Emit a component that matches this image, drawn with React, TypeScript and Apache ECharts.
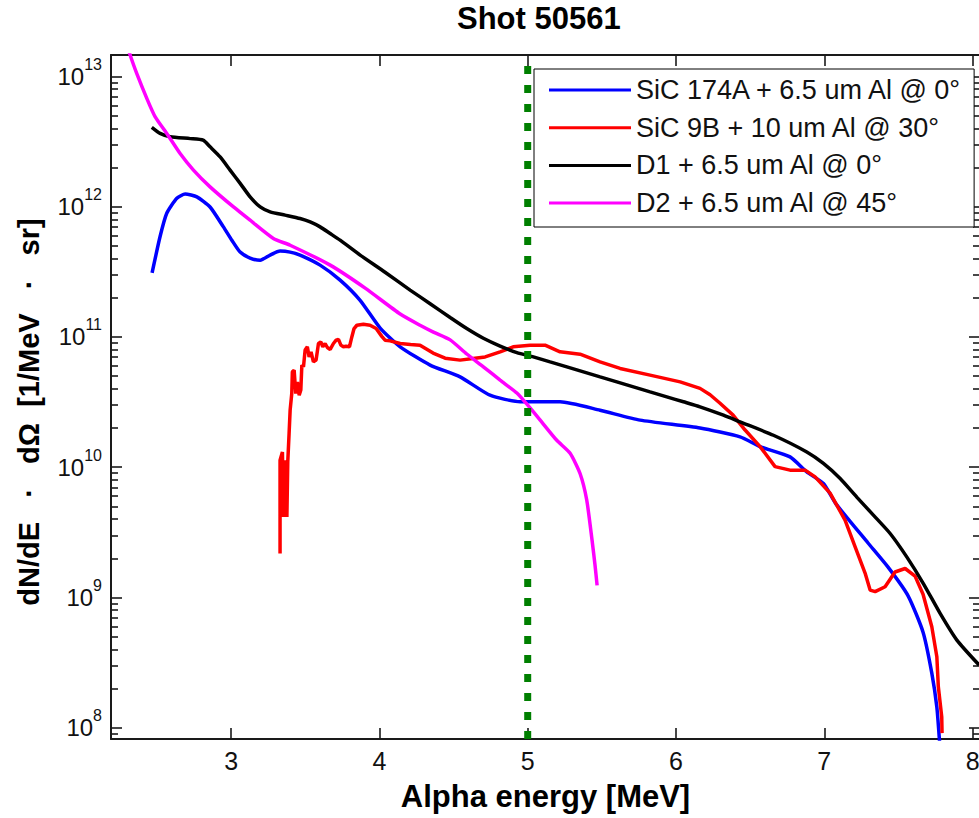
import React, { useEffect, useRef } from 'react';
import * as echarts from 'echarts';

const chartTitle = 'Shot 50561';
const xAxisLabel = 'Alpha energy [MeV]';
const yAxisLabel = 'dN/dE\u00a0\u00a0\u00a0·\u00a0\u00a0\u00a0dΩ\u00a0\u00a0[1/MeV\u00a0\u00a0\u00a0·\u00a0\u00a0\u00a0sr]';

const xTickValues = [3, 4, 5, 6, 7, 8];
const yDecadeExponents = [8, 9, 10, 11, 12, 13];
const energyMin = 2.19;
const energyMax = 8.05;
const fluxMin = 8.2e7;
const fluxMax = 1.46e13;
const cutoffEnergy = [5];

const seriesNames = [
  'SiC 174A + 6.5 um Al @ 0°',
  'SiC 9B + 10 um Al @ 30°',
  'D1 + 6.5 um Al @ 0°',
  'D2 + 6.5 um Al @ 45°',
];
const seriesColors = ['#0000ff', '#ff0000', '#000000', '#ff00ff'];

const sic174aEnergy = [2.467, 2.521, 2.566, 2.634, 2.690, 2.769, 2.858, 2.948, 3.005, 3.061, 3.128, 3.196, 3.263, 3.330, 3.398, 3.465, 3.600, 3.735, 3.870, 4.005, 4.140, 4.342, 4.544, 4.746, 4.949, 5.218, 5.488, 5.758, 6.162, 6.432, 6.567, 6.769, 6.882, 6.994, 7.080, 7.295, 7.430, 7.565, 7.666, 7.725, 7.759, 7.776, 7.787];
const sic174aFlux = [3.1e11, 5.9e11, 8.9e11, 1.16e12, 1.25e12, 1.19e12, 9.95e11, 7.0e11, 5.53e11, 4.48e11, 4.03e11, 3.88e11, 4.25e11, 4.56e11, 4.48e11, 4.25e11, 3.56e11, 2.73e11, 1.91e11, 1.17e11, 8.4e10, 6.08e10, 4.94e10, 3.57e10, 3.18e10, 3.18e10, 2.74e10, 2.30e10, 2.0e10, 1.71e10, 1.44e10, 1.2e10, 9.2e9, 7.5e9, 5.21e9, 2.62e9, 1.71e9, 1.03e9, 5.42e8, 2.63e8, 1.44e8, 8.2e7, 5.6e7];

const sic9bEnergy = [3.330, 3.330, 3.346, 3.353, 3.364, 3.376, 3.382, 3.391, 3.398, 3.409, 3.413, 3.425, 3.436, 3.447, 3.459, 3.470, 3.477, 3.488, 3.499, 3.514, 3.526, 3.539, 3.555, 3.573, 3.589, 3.605, 3.618, 3.634, 3.649, 3.668, 3.690, 3.708, 3.724, 3.740, 3.757, 3.775, 3.798, 3.814, 3.829, 3.848, 3.892, 3.937, 3.978, 4.016, 4.038, 4.072, 4.140, 4.210, 4.274, 4.362, 4.443, 4.544, 4.645, 4.713, 4.814, 4.902, 5.016, 5.117, 5.218, 5.353, 5.488, 5.623, 5.825, 6.028, 6.162, 6.230, 6.297, 6.385, 6.466, 6.567, 6.668, 6.769, 6.871, 6.938, 7.039, 7.140, 7.208, 7.275, 7.309, 7.343, 7.410, 7.477, 7.545, 7.612, 7.666, 7.725, 7.759, 7.769, 7.792, 7.794];
const sic9bFlux = [2.18e9, 1.13e10, 1.31e10, 4.16e9, 1.13e10, 4.16e9, 1.10e10, 1.82e10, 2.74e10, 3.68e10, 5.40e10, 5.56e10, 3.68e10, 4.52e10, 3.57e10, 3.91e10, 6.08e10, 5.90e10, 7.93e10, 8.40e10, 7.03e10, 7.69e10, 6.44e10, 6.64e10, 8.91e10, 9.16e10, 8.40e10, 8.91e10, 8.30e10, 8.02e10, 8.91e10, 9.44e10, 9.57e10, 8.65e10, 8.40e10, 8.49e10, 8.40e10, 1.00e11, 1.16e11, 1.23e11, 1.25e11, 1.23e11, 1.16e11, 1.01e11, 9.44e10, 9.33e10, 8.91e10, 8.75e10, 8.65e10, 7.52e10, 6.87e10, 6.64e10, 6.87e10, 7.03e10, 7.69e10, 8.40e10, 8.65e10, 8.65e10, 7.69e10, 7.38e10, 6.44e10, 5.73e10, 5.09e10, 4.52e10, 4.03e10, 3.60e10, 3.10e10, 2.51e10, 1.93e10, 1.44e10, 1.01e10, 9.5e9, 9.5e9, 8.43e9, 6.32e9, 3.93e9, 2.45e9, 1.54e9, 1.14e9, 1.11e9, 1.21e9, 1.57e9, 1.67e9, 1.46e9, 1.06e9, 5.96e8, 3.51e8, 2.07e8, 1.21e8, 9.1e7];

const d1Energy = [2.465, 2.521, 2.589, 2.724, 2.811, 2.858, 2.926, 2.993, 3.061, 3.128, 3.196, 3.263, 3.364, 3.465, 3.533, 3.600, 3.668, 3.735, 3.870, 4.038, 4.207, 4.342, 4.477, 4.589, 4.701, 4.814, 4.927, 5.038, 5.151, 5.264, 5.376, 5.488, 5.601, 5.713, 5.825, 5.938, 6.050, 6.162, 6.320, 6.432, 6.657, 6.882, 6.994, 7.107, 7.219, 7.331, 7.444, 7.556, 7.668, 7.781, 7.894, 8.044];
const d1Flux = [4.06e12, 3.65e12, 3.44e12, 3.33e12, 3.24e12, 2.88e12, 2.41e12, 1.91e12, 1.51e12, 1.19e12, 9.95e11, 9.12e11, 8.61e11, 8.11e11, 7.64e11, 7.00e11, 6.22e11, 5.53e11, 4.25e11, 3.14e11, 2.29e11, 1.80e11, 1.41e11, 1.16e11, 9.77e10, 8.51e10, 7.59e10, 7.03e10, 6.44e10, 5.90e10, 5.40e10, 4.94e10, 4.52e10, 4.14e10, 3.79e10, 3.47e10, 3.18e10, 2.91e10, 2.51e10, 2.23e10, 1.76e10, 1.31e10, 1.07e10, 8.2e9, 5.9e9, 4.29e9, 3.10e9, 2.05e9, 1.28e9, 7.55e8, 4.71e8, 3.03e8];

const d2Energy = [2.299, 2.319, 2.364, 2.432, 2.488, 2.566, 2.656, 2.746, 2.858, 3.016, 3.128, 3.285, 3.398, 3.668, 3.904, 4.140, 4.274, 4.364, 4.477, 4.589, 4.701, 4.814, 4.927, 4.989, 5.084, 5.196, 5.286, 5.353, 5.398, 5.434, 5.454, 5.468];
const d2Flux = [1.73e13, 1.46e13, 1.05e13, 6.76e12, 4.89e12, 3.65e12, 2.56e12, 1.91e12, 1.42e12, 9.95e11, 7.87e11, 5.70e11, 5.06e11, 3.56e11, 2.37e11, 1.50e11, 1.23e11, 1.09e11, 9.50e10, 7.40e10, 5.90e10, 4.66e10, 3.71e10, 3.10e10, 2.30e10, 1.61e10, 1.28e10, 8.95e9, 5.6e9, 2.75e9, 1.77e9, 1.24e9];

const seriesSmooth = [0.2, 0, 0.2, 0.2];

const FONT = '"Liberation Sans", Arial, Helvetica, sans-serif';

const toLogPairs = (xs: number[], ys: number[]) => xs.map((x, i) => [x, Math.log10(ys[i])]);

export default function App() {
  const ref = useRef<HTMLDivElement>(null);

  useEffect(() => {
    if (!ref.current) return;
    const chart = echarts.init(ref.current, undefined, { renderer: 'svg' });

    const yMinLog = Math.log10(fluxMin);
    const yMaxLog = Math.log10(fluxMax);
    const minorValues: number[] = [];
    for (let n = 7; n <= 13; n++) {
      for (let k = 2; k <= 9; k++) {
        const v = Math.log10(k) + n;
        if (v > yMinLog && v < yMaxLog) minorValues.push(v);
      }
    }

    const axisLineStyle = { color: '#1a1a1a', width: 2 };
    const tickLine = { color: '#1a1a1a', width: 1.6 };

    const seriesData = [
      toLogPairs(sic174aEnergy, sic174aFlux),
      toLogPairs(sic9bEnergy, sic9bFlux),
      toLogPairs(d1Energy, d1Flux),
      toLogPairs(d2Energy, d2Flux),
    ];

    const option: any = {
      animation: false,
      backgroundColor: '#ffffff',
      title: {
        text: chartTitle,
        left: 452,
        top: -2,
        textStyle: { fontFamily: FONT, fontSize: 31, fontWeight: 'bold', color: '#000' },
      },
      grid: { left: 111, top: 55, right: -1, bottom: 79, outerBoundsMode: 'none' },
      legend: {
        orient: 'vertical',
        left: 534,
        top: 69,
        padding: [7.5, 11, 10.4, 15],
        itemWidth: 82,
        itemHeight: 3,
        itemGap: 10.7,
        borderColor: '#000',
        borderWidth: 1,
        backgroundColor: '#ffffff',
        selectedMode: false,
        data: seriesNames.map((name) => ({ name, icon: 'rect' })),
        textStyle: { fontFamily: FONT, fontSize: 27, color: '#111', lineHeight: 27 },
      },
      graphic: [
        {
          type: 'text',
          x: 29,
          y: 412,
          rotation: Math.PI / 2,
          style: {
            text: yAxisLabel,
            fontFamily: FONT,
            fontSize: 29,
            fontWeight: 'bold',
            fill: '#000',
            align: 'center',
            verticalAlign: 'middle',
          },
        },
      ],
      xAxis: [
        {
          type: 'value',
          position: 'bottom',
          min: energyMin,
          max: energyMax,
          name: xAxisLabel,
          nameLocation: 'middle',
          nameGap: 42,
          nameTextStyle: { fontFamily: FONT, fontSize: 31, fontWeight: 'bold', color: '#000' },
          axisLine: { show: true, lineStyle: axisLineStyle },
          axisTick: { show: true, inside: true, length: 11, lineStyle: tickLine, customValues: xTickValues },
          axisLabel: { show: true, customValues: xTickValues, fontFamily: FONT, fontSize: 25, color: '#111', margin: 9 },
          splitLine: { show: false },
        },
        {
          type: 'value',
          position: 'top',
          min: energyMin,
          max: energyMax,
          axisLine: { show: true, lineStyle: axisLineStyle },
          axisTick: { show: true, inside: true, length: 11, lineStyle: tickLine, customValues: xTickValues },
          axisLabel: { show: false },
          splitLine: { show: false },
        },
      ],
      yAxis: [
        {
          type: 'value',
          position: 'left',
          min: yMinLog,
          max: yMaxLog,
          axisLine: { show: true, lineStyle: axisLineStyle },
          axisTick: { show: true, inside: true, length: 11, lineStyle: tickLine, customValues: yDecadeExponents },
          axisLabel: {
            show: true,
            customValues: yDecadeExponents,
            margin: 9,
            formatter: (v: number) => '{b|10}{s|' + Math.round(v) + '}',
            rich: {
              b: { fontFamily: FONT, fontSize: 24, color: '#111', lineHeight: 40 },
              s: { fontFamily: FONT, fontSize: 16, color: '#111', lineHeight: 16, verticalAlign: 'top' },
            },
          },
          splitLine: { show: false },
        },
        {
          type: 'value',
          position: 'left',
          min: yMinLog,
          max: yMaxLog,
          axisLine: { show: false },
          axisTick: { show: true, inside: true, length: 7, lineStyle: tickLine, customValues: minorValues },
          axisLabel: { show: false },
          splitLine: { show: false },
        },
        {
          type: 'value',
          position: 'right',
          min: yMinLog,
          max: yMaxLog,
          axisLine: { show: true, lineStyle: axisLineStyle },
          axisTick: { show: true, inside: true, length: 11, lineStyle: tickLine, customValues: yDecadeExponents },
          axisLabel: { show: false },
          splitLine: { show: false },
        },
        {
          type: 'value',
          position: 'right',
          min: yMinLog,
          max: yMaxLog,
          axisLine: { show: false },
          axisTick: { show: true, inside: true, length: 7, lineStyle: tickLine, customValues: minorValues },
          axisLabel: { show: false },
          splitLine: { show: false },
        },
      ],
      series: [
        ...seriesNames.map((name, i) => ({
          name,
          type: 'line',
          xAxisIndex: 0,
          yAxisIndex: 0,
          data: seriesData[i],
          symbol: 'none',
          showSymbol: false,
          clip: true,
          smooth: seriesSmooth[i] || false,
          color: seriesColors[i],
          itemStyle: { color: seriesColors[i] },
          lineStyle: { color: seriesColors[i], width: 3.5 },
          silent: true,
          z: 2 + i,
        })),
        {
          name: 'cutoff',
          type: 'line',
          xAxisIndex: 0,
          yAxisIndex: 0,
          data: [
            [cutoffEnergy[0], yMinLog],
            [cutoffEnergy[0], yMaxLog],
          ],
          symbol: 'none',
          showSymbol: false,
          clip: true,
          silent: true,
          lineStyle: { color: '#007f00', width: 7, type: [8, 11], cap: 'butt' },
          z: 10,
        },
      ],
    };

    chart.setOption(option);
    return () => chart.dispose();
  }, []);

  return (
    <div
      ref={ref}
      style={{ position: 'fixed', left: 0, top: 0, width: 979, height: 818, background: '#fff' }}
    />
  );
}
